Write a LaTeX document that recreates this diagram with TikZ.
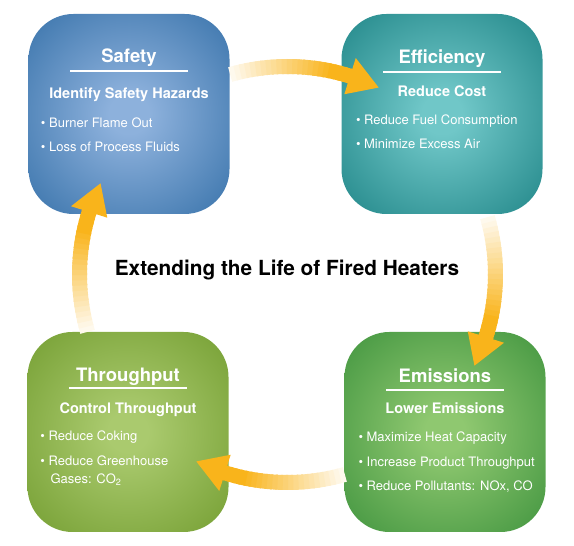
\documentclass[tikz,border=0pt]{standalone}
\usepackage{fontspec}
\setmainfont{TeX Gyre Heros}
\usetikzlibrary{positioning}

\definecolor{safetyin}{HTML}{8DB1DC}
\definecolor{safetyout}{HTML}{2E6BA4}
\definecolor{effin}{HTML}{70C7C8}
\definecolor{effout}{HTML}{177E80}
\definecolor{thruin}{HTML}{AACA6E}
\definecolor{thruout}{HTML}{6E992B}
\definecolor{emisin}{HTML}{8FC870}
\definecolor{emisout}{HTML}{378E39}
\definecolor{arrowc}{HTML}{F9B41B}

\newcommand{\glow}[3]{\pgfdeclareradialshading{#1}{\pgfpoint{0bp}{0bp}}{color(0bp)=(#2); color(5bp)=(#2); color(40bp)=(#3); color(50bp)=(#3)}}
\glow{safetyglow}{safetyin}{safetyout}
\glow{effglow}{effin}{effout}
\glow{thruglow}{thruin}{thruout}
\glow{emisglow}{emisin}{emisout}

\tikzset{box/.style={rounded corners=45pt,minimum width=201pt,minimum height=200pt,shade,inner sep=0pt},
  heading/.style={text=white,anchor=base,font=\fontsize{18.5}{20}\selectfont\bfseries},
  goal/.style={text=white,anchor=base,font=\fontsize{14.5}{16}\selectfont\bfseries},
  item/.style={text=white,anchor=base west,inner sep=0pt,font=\fontsize{13}{15}\selectfont},
  rule/.style={white,line width=1.5pt},
  shaft/.style={line width=15pt}}

\newcommand{\fadearrow}[2]{%
  \pgfmathsetmacro{\shaftend}{#2+6}%
  \pgfmathsetmacro{\headbase}{#2+8.5}%
  \foreach \i in {0,...,24}{%
    \pgfmathsetmacro{\angA}{#1+(\shaftend-#1)*\i/25}%
    \pgfmathsetmacro{\angB}{#1+(\shaftend-#1)*(\i+1.4)/25}%
    \pgfmathtruncatemacro{\pc}{min(100,8+92*\i/19)}%
    \draw[shaft,arrowc!\pc!white] ([shift={(\angA:208pt)}]hub) arc[start angle=\angA,end angle=\angB,radius=208pt];
  }%
  \fill[arrowc] ([shift={(#2:208pt)}]hub) -- ([shift={(\headbase:189pt)}]hub) -- ([shift={(\headbase:227pt)}]hub) -- cycle;
}

\begin{document}
\begin{tikzpicture}[x=1pt,y=1pt]
  \useasboundingbox (0,0) rectangle (574,546);

  % the four boxes
  \node[box,shading=safetyglow] (safety) at (129,432) {};
  \node[box,shading=effglow] (efficiency) at (442,432) {};
  \node[box,shading=thruglow] (throughput) at (128,114) {};
  \node[box,shading=emisglow] (emissions) at (445,114) {};

  % Safety
  \node[heading] (safetyhead) at ([yshift=51pt]safety.center) {Safety};
  \draw[rule] ([xshift=-59pt,yshift=43pt]safety.center) -- ([xshift=59pt,yshift=43pt]safety.center);
  \node[goal] (safetygoal) at ([yshift=15pt]safety.center) {Identify Safety Hazards};
  \node[item] (safety1) at ([xshift=12.5pt,yshift=-14pt]safety.west) {\textbullet\ Burner Flame Out};
  \node[item] (safety2) at ([xshift=12.5pt,yshift=-38pt]safety.west) {\textbullet\ Loss of Process Fluids};

  % Efficiency
  \node[heading] (effhead) at ([yshift=50pt]efficiency.center) {Efficiency};
  \draw[rule] ([xshift=-59pt,yshift=42pt]efficiency.center) -- ([xshift=59pt,yshift=42pt]efficiency.center);
  \node[goal] (effgoal) at ([yshift=17pt]efficiency.center) {Reduce Cost};
  \node[item] (eff1) at ([xshift=14.5pt,yshift=-11pt]efficiency.west) {\textbullet\ Reduce Fuel Consumption};
  \node[item] (eff2) at ([xshift=14.5pt,yshift=-35pt]efficiency.west) {\textbullet\ Minimize Excess Air};

  % Throughput
  \node[heading] (thruhead) at ([yshift=50.5pt]throughput.center) {Throughput};
  \draw[rule] ([xshift=-59pt,yshift=44pt]throughput.center) -- ([xshift=59pt,yshift=44pt]throughput.center);
  \node[goal] (thrugoal) at ([yshift=18.5pt]throughput.center) {Control Throughput};
  \node[item] (thru1) at ([xshift=13pt,yshift=-9pt]throughput.west) {\textbullet\ Reduce Coking};
  \node[item] (thru2) at ([xshift=13pt,yshift=-33.5pt]throughput.west) {\textbullet\ Reduce Greenhouse};
  \node[item] (thru3) at ([xshift=23pt,yshift=-51.5pt]throughput.west) {Gases: CO\textsubscript{2}};

  % Emissions
  \node[heading] (emishead) at ([yshift=49.5pt]emissions.center) {Emissions};
  \draw[rule] ([xshift=-59pt,yshift=42pt]emissions.center) -- ([xshift=59pt,yshift=42pt]emissions.center);
  \node[goal] (emisgoal) at ([yshift=18pt]emissions.center) {Lower Emissions};
  \node[item] (emis1) at ([xshift=14pt,yshift=-9.5pt]emissions.west) {\textbullet\ Maximize Heat Capacity};
  \node[item] (emis2) at ([xshift=14pt,yshift=-34.5pt]emissions.west) {\textbullet\ Increase Product Throughput};
  \node[item] (emis3) at ([xshift=14pt,yshift=-58.5pt]emissions.west) {\textbullet\ Reduce Pollutants: NOx, CO};

  % title in the middle
  \node[font=\fontsize{20.8}{24}\selectfont\bfseries] (motto) at (287,276) {Extending the Life of Fired Heaters};

  % arrows round the cycle
  \coordinate (hub) at (287.5,271.5);
  \fadearrow{106}{64}
  \fadearrow{16}{-26}
  \fadearrow{-74}{-116}
  \fadearrow{196}{154}
\end{tikzpicture}
\end{document}
